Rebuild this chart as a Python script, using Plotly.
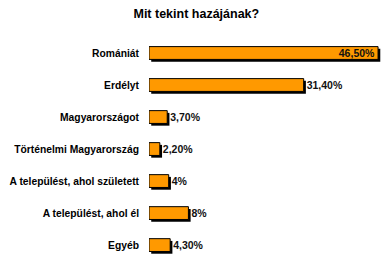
import plotly.graph_objects as go

categories = ["Romániát", "Erdélyt", "Magyarországot", "Történelmi Magyarország",
              "A települést, ahol született", "A települést, ahol él", "Egyéb"]
values = [46.5, 31.4, 3.7, 2.2, 4.0, 8.0, 4.3]
value_labels = ["46,50%", "31,40%", "3,70%", "2,20%", "4%", "8%", "4,30%"]

pos = list(range(len(categories)))
W = 0.4
font = "Liberation Sans, Arial, sans-serif"

fig = go.Figure()
# shadow
fig.add_trace(go.Bar(
    y=pos, x=values, orientation="h", base=0.45,
    width=W, offset=-W / 2 + 0.07,
    marker=dict(color="#000000", line=dict(width=0)),
    hoverinfo="skip", showlegend=False,
))
# main bars
fig.add_trace(go.Bar(
    y=pos, x=values, orientation="h",
    width=W, offset=-W / 2,
    marker=dict(color="#FF9900", line=dict(color="#000000", width=1)),
    text=value_labels,
    textposition=["inside"] + ["outside"] * (len(values) - 1),
    insidetextanchor="end",
    constraintext="none",
    textfont=dict(family=font, size=10.5, color="#111111", weight="bold"),
    cliponaxis=False, showlegend=False,
))

fig.update_layout(
    width=385, height=255,
    margin=dict(l=149, r=3, t=37, b=0),
    paper_bgcolor="white", plot_bgcolor="white",
    barmode="overlay",
    title=dict(text="<b>Mit tekint hazájának?</b>", x=0.51, xanchor="center",
               y=1 - 13.5 / 255, yanchor="middle",
               font=dict(family=font, size=12.5, color="#000000")),
    xaxis=dict(range=[0, 47.3], visible=False, showgrid=False, zeroline=False),
    yaxis=dict(range=[6.31, -0.5], tickmode="array", tickvals=pos, ticktext=categories,
               showgrid=False, zeroline=False, showline=False, ticks="",
               ticklabelstandoff=9,
               tickfont=dict(family=font, size=10.3, color="#000000", weight="bold")),
)

fig.write_html("out.html")
